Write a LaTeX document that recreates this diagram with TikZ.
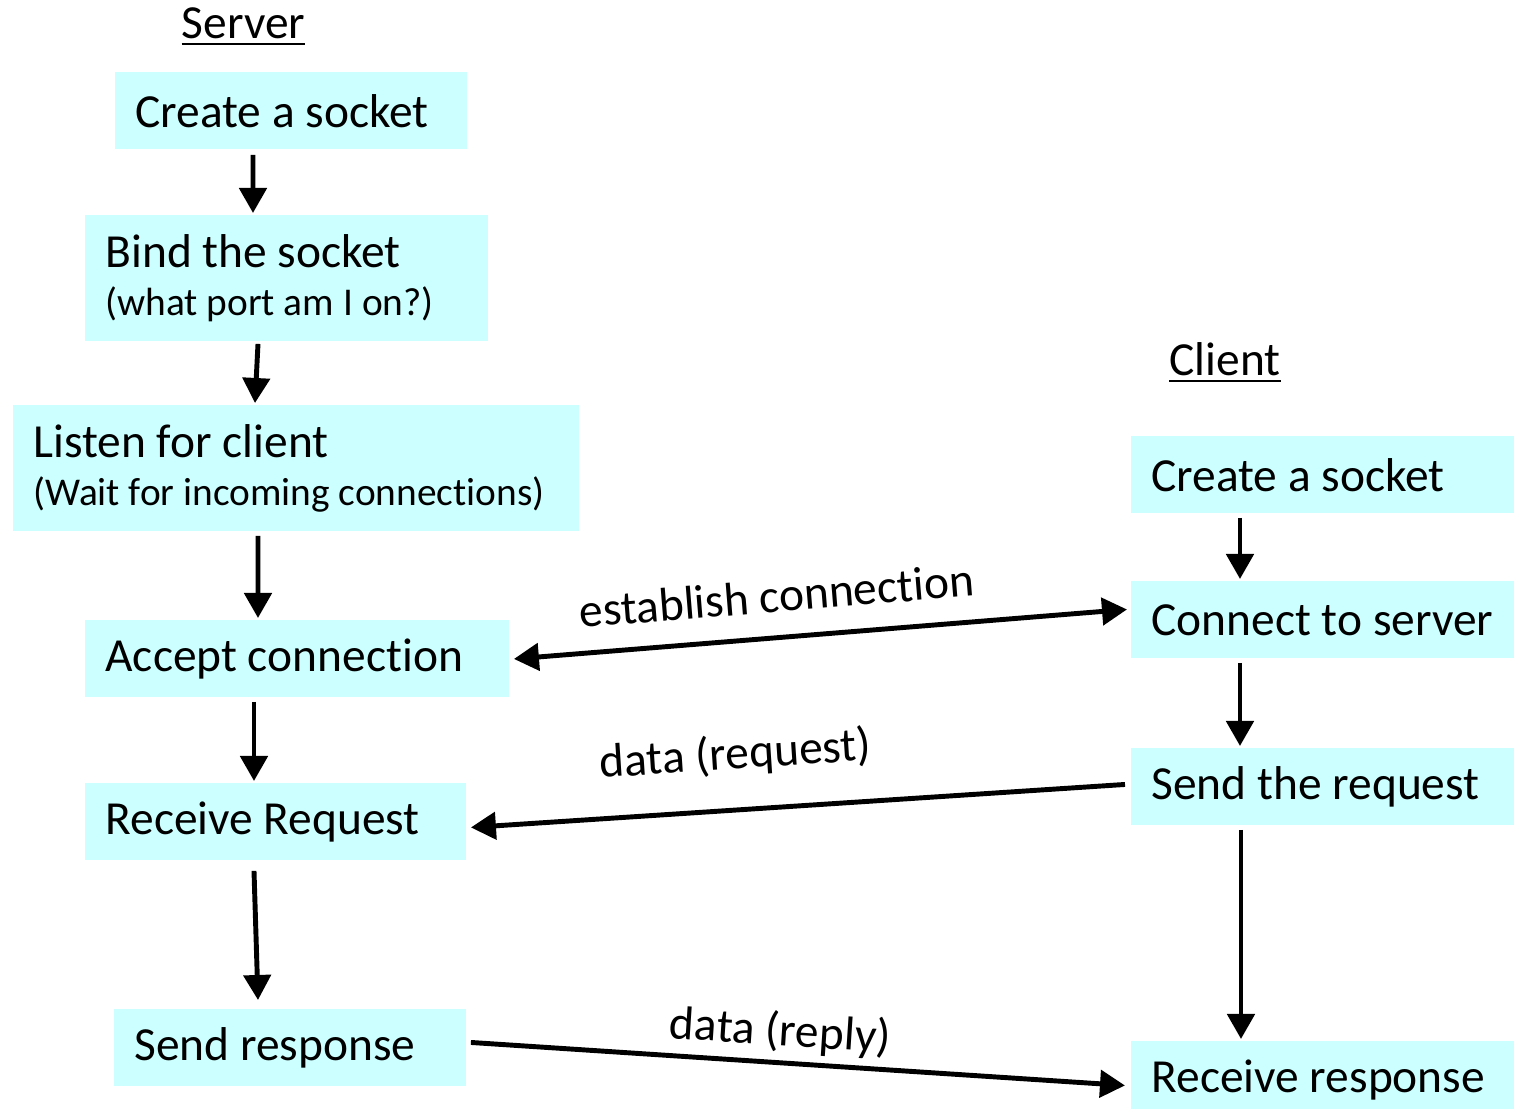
\documentclass[tikz,border=0pt]{standalone}
\usepackage{fontspec}
\setmainfont{Carlito}[Ligatures=NoCommon]
\usetikzlibrary{arrows.meta}
\definecolor{sockcyan}{HTML}{CCFFFF}
\tikzset{
  sockbox/.style = {anchor=north west, fill=sockcyan, inner xsep=0.2cm,
    inner ysep=0pt, align=flush left, font=\fontsize{13.5}{13.7}\selectfont},
  sock_1/.style = {sockbox, minimum height=0.77cm},% one line of text
  sock_2/.style = {sockbox, minimum height=1.26cm},% text + small note
  side_t/.style = {font=\fontsize{13.5}{16}\selectfont},% column title
  msg_l/.style = {sloped, inner sep=0pt, font=\fontsize{13.5}{16}\selectfont}% message label
}
\newcommand{\notetxt}[1]{{\fontsize{11.2}{13.7}\selectfont\mbox{#1}}}

\begin{document}
\begin{tikzpicture}[->,>={Triangle[width=0.27cm,length=0.25cm]},line width=1.4pt]
\useasboundingbox (0,0) rectangle (15.14,-11.09);

% server side
\node (srv) [side_t] at (2.435,-0.27) {\underline{Server}};
\node (s_create) [sock_1, text width=3.12cm] at (1.13,-0.70) {\mbox{Create a socket}};
\node (s_bind) [sock_2, text width=3.63cm] at (0.83,-2.13)
  {\mbox{Bind the socket}\\\notetxt{(what port am I on?)}};
\node (s_listen) [sock_2, text width=5.26cm] at (0.11,-4.03)
  {\mbox{Listen for client}\\\notetxt{(Wait for incoming connections)}};
\node (s_accept) [sock_1, text width=3.84cm] at (0.83,-6.18) {\mbox{Accept connection}};
\node (s_recv) [sock_1, text width=3.41cm] at (0.83,-7.81) {\mbox{Receive Request}};
\node (s_send) [sock_1, text width=3.12cm] at (1.12,-10.07) {\mbox{Send response}};

% client side
\node (cli) [side_t] at (12.25,-3.63) {\underline{Client}};
\node (c_create) [sock_1, text width=3.44cm] at (11.29,-4.34) {\mbox{Create a socket}};
\node (c_connect) [sock_1, text width=3.44cm] at (11.29,-5.79) {\mbox{Connect to server}};
\node (c_send) [sock_1, text width=3.44cm] at (11.29,-7.46) {\mbox{Send the request}};
\node (c_recv) [sock_1, text width=3.44cm] at (11.29,-10.39) {\mbox{Receive response}};

% steps of the server
\draw ([xshift=1.40cm,yshift=-0.03cm]s_create.south west) -- ([xshift=1.70cm]s_bind.north west);
\draw ([xshift=1.75cm]s_bind.south west) -- ([xshift=2.44cm]s_listen.north west);
\draw ([xshift=2.47cm,yshift=-0.02cm]s_listen.south west) -- ([xshift=1.75cm]s_accept.north west);
\draw ([xshift=1.71cm,yshift=-0.02cm]s_accept.south west) -- ([xshift=1.71cm]s_recv.north west);
\draw ([xshift=1.71cm,yshift=-0.08cm]s_recv.south west) -- ([xshift=1.46cm,yshift=0.07cm]s_send.north west);

% steps of the client
\draw ([xshift=1.11cm,yshift=-0.02cm]c_create.south west) -- ([xshift=1.11cm]c_connect.north west);
\draw ([xshift=1.11cm,yshift=-0.02cm]c_connect.south west) -- ([xshift=1.11cm]c_send.north west);
\draw ([xshift=1.12cm,yshift=-0.02cm]c_send.south west) -- ([xshift=1.12cm]c_recv.north west);

% messages between them
\draw[<->] ([xshift=0.02cm]s_accept.east) -- ([xshift=-0.02cm,yshift=0.105cm]c_connect.west)
  node (l_est) [msg_l, pos=0.434, above=0.23cm] {establish connection};
\draw[<-] ([xshift=0.02cm,yshift=-0.055cm]s_recv.east) -- ([xshift=-0.04cm,yshift=0.025cm]c_send.west)
  node (l_req) [msg_l, pos=0.41, above=0.31cm] {data (request)};
\draw ([xshift=0.02cm,yshift=0.055cm]s_send.east) -- ([xshift=-0.04cm,yshift=-0.055cm]c_recv.west)
  node (l_rep) [msg_l, pos=0.47, above=0.07cm] {data (reply)};
\end{tikzpicture}
\end{document}
